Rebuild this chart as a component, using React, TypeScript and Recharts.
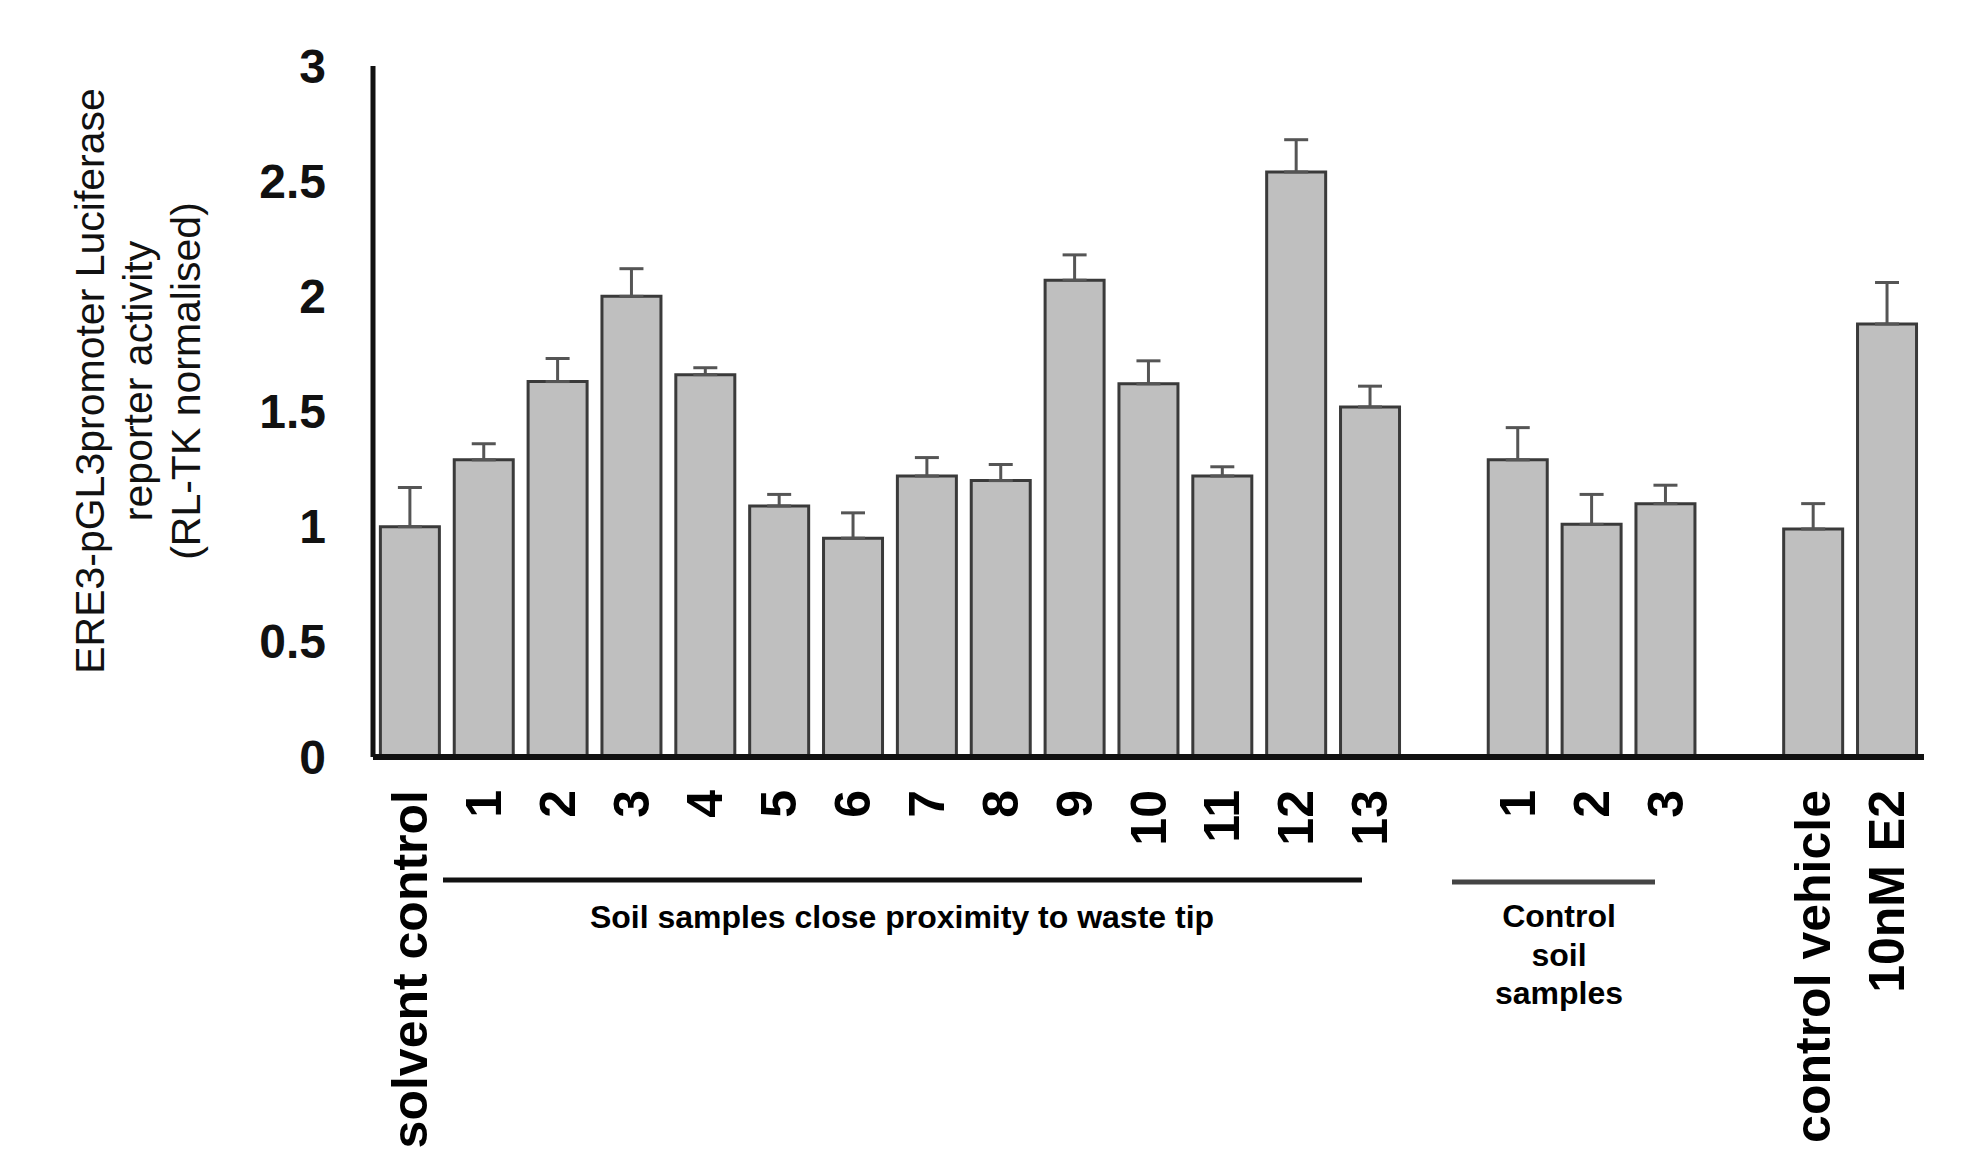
import { Bar, BarChart, ErrorBar, XAxis, YAxis } from "recharts";

const FONT = "'Liberation Sans', Arial, Helvetica, sans-serif";

// categories along the x axis (blank entries are the gaps between groups)
const labels = [
  "solvent control", "1", "2", "3", "4", "5", "6", "7", "8", "9", "10", "11", "12", "13",
  "",
  "1", "2", "3",
  "",
  "control vehicle", "10nM E2",
];

// mean luciferase activity
const values = [
  1.0, 1.29, 1.63, 2.0, 1.66, 1.09, 0.95, 1.22, 1.2, 2.07, 1.62, 1.22, 2.54, 1.52,
  null,
  1.29, 1.01, 1.1,
  null,
  0.99, 1.88,
];

// upper error (only the top whisker is drawn)
const errors = [
  0.17, 0.07, 0.1, 0.12, 0.03, 0.05, 0.11, 0.08, 0.07, 0.11, 0.1, 0.04, 0.14, 0.09,
  null,
  0.14, 0.13, 0.08,
  null,
  0.11, 0.18,
];

const yTicks = [0, 0.5, 1, 1.5, 2, 2.5, 3];
const yTitle = ["ERE3-pGL3promoter Luciferase", "reporter activity", "(RL-TK normalised)"];
const soilGroupLabel = "Soil samples close proximity to waste tip";
const controlGroupLabel = ["Control", "soil", "samples"];

const chartData = labels.map((_, i) => ({
  cat: "c" + i,
  value: values[i],
  err: errors[i] == null ? null : [0, errors[i]],
}));

const W = 1978;
const H = 1151;
const PLOT_LEFT = 373;
const PLOT_TOP = 66;
const PLOT_BOTTOM = 757;
const PLOT_RIGHT = 1924;
const Y_AXIS_W = 100;
const X_AXIS_H = 100;

function XTick(props: any) {
  const { x, y, payload } = props;
  const idx = Number(String(payload.value).slice(1));
  const ty = y + 33;
  return (
    <text
      x={x}
      y={ty}
      transform={`rotate(-90, ${x}, ${ty})`}
      textAnchor="end"
      dominantBaseline="central"
      fontFamily={FONT}
      fontWeight="bold"
      fontSize={50}
      fill="#000"
    >
      {labels[idx]}
    </text>
  );
}

function YTick(props: any) {
  const { x, y, payload } = props;
  return (
    <text
      x={x - 47}
      y={y}
      textAnchor="end"
      dominantBaseline="central"
      fontFamily={FONT}
      fontWeight="bold"
      fontSize={48}
      fill="#111"
    >
      {String(payload.value)}
    </text>
  );
}

export default function App() {
  return (
    <div style={{ position: "absolute", left: 0, top: 0, width: W, height: H, background: "#fff" }}>
      <BarChart
        width={W}
        height={H}
        data={chartData}
        barCategoryGap="10%"
        margin={{
          top: PLOT_TOP,
          right: W - PLOT_RIGHT,
          bottom: H - PLOT_BOTTOM - X_AXIS_H,
          left: PLOT_LEFT - Y_AXIS_W,
        }}
      >
        <XAxis
          dataKey="cat"
          height={X_AXIS_H}
          interval={0}
          tickLine={false}
          tickSize={0}
          tickMargin={0}
          axisLine={{ stroke: "#111", strokeWidth: 6 }}
          tick={<XTick />}
        />
        <YAxis
          width={Y_AXIS_W}
          domain={[0, 3]}
          ticks={yTicks}
          tickLine={false}
          tickSize={0}
          tickMargin={0}
          axisLine={{ stroke: "#111", strokeWidth: 5 }}
          tick={<YTick />}
        />
        <Bar dataKey="value" fill="#bfbfbf" stroke="#3a3a3a" strokeWidth={3} isAnimationActive={false}>
          <ErrorBar dataKey="err" width={12} stroke="#555" strokeWidth={3} direction="y" />
        </Bar>
      </BarChart>

      <svg
        width={W}
        height={H}
        style={{ position: "absolute", left: 0, top: 0, pointerEvents: "none" }}
      >
        {yTitle.map((t, i) => {
          const tx = 90 + i * 48;
          const ty = 381;
          return (
            <text
              key={t}
              x={tx}
              y={ty}
              transform={`rotate(-90, ${tx}, ${ty})`}
              textAnchor="middle"
              dominantBaseline="central"
              fontFamily={FONT}
              fontSize={41}
              fill="#111"
            >
              {t}
            </text>
          );
        })}

        <line x1={443} y1={880} x2={1362} y2={880} stroke="#111" strokeWidth={5} />
        <text
          x={902}
          y={928}
          textAnchor="middle"
          fontFamily={FONT}
          fontWeight="bold"
          fontSize={32}
          fill="#000"
        >
          {soilGroupLabel}
        </text>

        <line x1={1452} y1={882} x2={1655} y2={882} stroke="#444" strokeWidth={5} />
        {controlGroupLabel.map((t, i) => (
          <text
            key={t}
            x={1559}
            y={927 + i * 38.5}
            textAnchor="middle"
            fontFamily={FONT}
            fontWeight="bold"
            fontSize={32}
            fill="#000"
          >
            {t}
          </text>
        ))}
      </svg>
    </div>
  );
}
